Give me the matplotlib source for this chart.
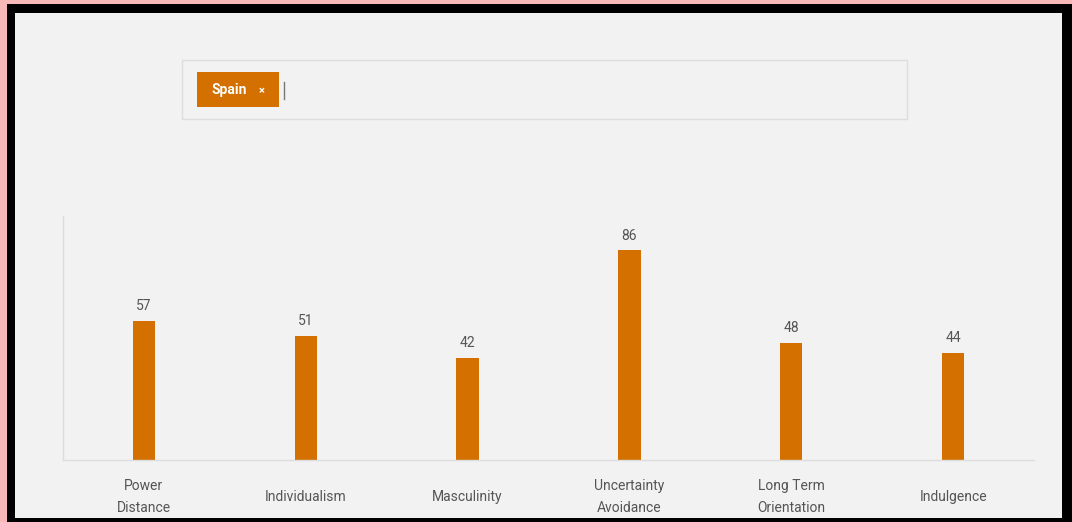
import matplotlib.pyplot as plt
from matplotlib.patches import Rectangle

# Hofstede dimension scores for the selected country
country = "Spain"
dimensions = ["Power\nDistance", "Individualism", "Masculinity",
              "Uncertainty\nAvoidance", "Long Term\nOrientation", "Indulgence"]
scores = [57, 51, 42, 86, 48, 44]

ORANGE = "#d37000"
BG = "#f2f2f2"
TEXT = "#555555"
plt.rcParams['font.family'] = ['Roboto', 'DejaVu Sans']

W, H = 1072, 522
fig = plt.figure(figsize=(W / 100, H / 100), dpi=100)
fig.patch.set_facecolor("#f7b8b8")

# Frame, page and search box drawn in pixel coordinates
bg = fig.add_axes([0, 0, 1, 1])
bg.set_xlim(0, W)
bg.set_ylim(H, 0)
bg.axis("off")
bg.add_patch(Rectangle((7, 4), W - 7, H - 4, facecolor="black", edgecolor="none"))
bg.add_patch(Rectangle((15, 13), 1047, 505, facecolor=BG, edgecolor="none"))
bg.add_patch(Rectangle((182, 60), 725, 59, facecolor=BG, edgecolor="#dddddd", lw=1))
bg.add_patch(Rectangle((197, 72), 82, 35, facecolor=ORANGE, edgecolor="none"))
bg.text(229, 90, country, color="white", fontsize=10, fontweight="bold",
        ha="center", va="center")
bg.text(262, 91, "×", color="white", fontsize=8, fontweight="bold",
        ha="center", va="center")
bg.plot([284, 284], [82, 99], color="#777777", lw=1)

# Bar chart
ax = fig.add_axes([63 / W, 1 - 460 / H, (1034 - 63) / W, (460 - 216) / H])
ax.set_facecolor("none")
x = list(range(len(scores)))
bars = ax.bar(x, scores, width=0.137, color=ORANGE)
for rect, v in zip(bars, scores):
    ax.text(rect.get_x() + rect.get_width() / 2, v + 6.0, str(v),
            ha="center", va="center", fontsize=10, color=TEXT)
# category labels, centred vertically 37px below the baseline
for xi, name in zip(x, dimensions):
    ax.text(xi, -37 / 244, name, transform=ax.get_xaxis_transform(),
            ha="center", va="center", fontsize=10, color=TEXT,
            linespacing=1.7)
ax.set_xlim(-0.5, len(scores) - 0.5)
ax.set_ylim(0, 100)
ax.set_xticks([])
ax.set_yticks([])
for side in ["top", "right"]:
    ax.spines[side].set_visible(False)
for side in ["left", "bottom"]:
    ax.spines[side].set_color("#dddddd")
    ax.spines[side].set_linewidth(1)

fig.savefig("out.png", dpi=100, facecolor=fig.get_facecolor())
